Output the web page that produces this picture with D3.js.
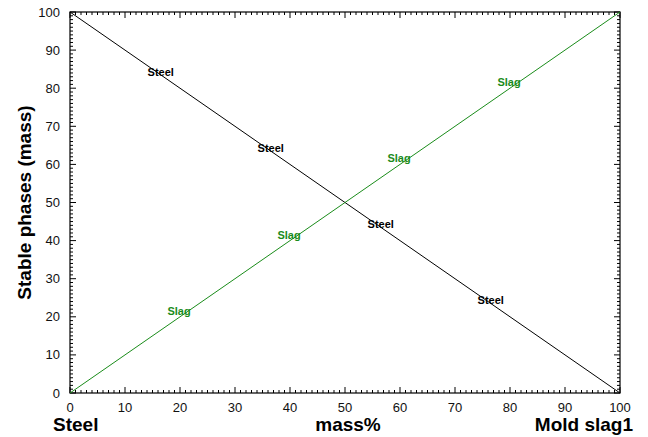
<!DOCTYPE html>
<html>
<head>
<meta charset="utf-8">
<script src="https://cdn.jsdelivr.net/npm/d3@7"></script>
<style>
  html, body { margin: 0; padding: 0; background: #fff; }
  svg { display: block; font-family: "Liberation Sans", Arial, Helvetica, sans-serif; }
</style>
</head>
<body>
<svg id="chart" width="648" height="437"></svg>
<script>
// Composition axis: 0 = pure steel, 100 = pure mold slag
const massPct = [0, 100];
const steelMass = [100, 0];
const slagMass = [0, 100];

// Inline curve labels (x positions along the composition axis)
const steelLabelX = [16.5, 36.5, 56.5, 76.5];
const slagLabelX = [20, 40, 60, 80];

const xTicks = [0, 10, 20, 30, 40, 50, 60, 70, 80, 90, 100];
const yTicks = [0, 10, 20, 30, 40, 50, 60, 70, 80, 90, 100];
const minorTicks = d3.range(0, 101, 1);

const svg = d3.select("#chart");
const m = { left: 70, right: 620, top: 12, bottom: 393 };

const x = d3.scaleLinear().domain([0, 100]).range([m.left, m.right]);
const y = d3.scaleLinear().domain([0, 100]).range([m.bottom, m.top]);

const green = "#1a8c1a";

// frame
svg.append("rect")
  .attr("x", m.left).attr("y", m.top)
  .attr("width", m.right - m.left).attr("height", m.bottom - m.top)
  .attr("fill", "none").attr("stroke", "#000").attr("stroke-width", 1.2);

// inward ticks on all four sides
const tickLen = d => (d % 10 === 0 ? 6 : 3);
const tg = svg.append("g").attr("stroke", "#000").attr("stroke-width", 1);
minorTicks.forEach(d => {
  const L = tickLen(d);
  tg.append("line").attr("x1", x(d)).attr("x2", x(d)).attr("y1", m.bottom).attr("y2", m.bottom - L);
  tg.append("line").attr("x1", x(d)).attr("x2", x(d)).attr("y1", m.top).attr("y2", m.top + L);
  tg.append("line").attr("y1", y(d)).attr("y2", y(d)).attr("x1", m.left).attr("x2", m.left + L);
  tg.append("line").attr("y1", y(d)).attr("y2", y(d)).attr("x1", m.right).attr("x2", m.right - L);
});

// tick labels
svg.append("g").selectAll("text").data(xTicks).join("text")
  .attr("x", d => x(d)).attr("y", 412)
  .attr("text-anchor", "middle").attr("font-size", 13).attr("fill", "#111")
  .text(d => d);

svg.append("g").selectAll("text").data(yTicks).join("text")
  .attr("x", 60).attr("y", d => y(d) + 4.5)
  .attr("text-anchor", "end").attr("font-size", 13).attr("fill", "#111")
  .text(d => d);

// phase lines
const line = d3.line().x(d => x(d[0])).y(d => y(d[1]));
svg.append("path")
  .datum(massPct.map((v, i) => [v, steelMass[i]]))
  .attr("d", line).attr("fill", "none").attr("stroke", "#000").attr("stroke-width", 1);
svg.append("path")
  .datum(massPct.map((v, i) => [v, slagMass[i]]))
  .attr("d", line).attr("fill", "none").attr("stroke", green).attr("stroke-width", 1);

const steelAt = v => d3.interpolateNumber(steelMass[0], steelMass[1])(v / 100);
const slagAt = v => d3.interpolateNumber(slagMass[0], slagMass[1])(v / 100);

svg.append("g").selectAll("text").data(steelLabelX).join("text")
  .attr("x", d => x(d)).attr("y", d => y(steelAt(d)) + 1)
  .attr("text-anchor", "middle").attr("font-size", 11).attr("font-weight", "bold")
  .attr("fill", "#000").text("Steel");

svg.append("g").selectAll("text").data(slagLabelX).join("text")
  .attr("x", d => x(d) - 1).attr("y", d => y(slagAt(d)) - 2)
  .attr("text-anchor", "middle").attr("font-size", 11).attr("font-weight", "bold")
  .attr("fill", green).text("Slag");

// axis titles
svg.append("text")
  .attr("transform", `translate(31,${(m.top + m.bottom) / 2}) rotate(-90)`)
  .attr("text-anchor", "middle").attr("font-size", 19).attr("font-weight", "bold")
  .text("Stable phases (mass)");

svg.append("text").attr("x", 53).attr("y", 431)
  .attr("font-size", 19).attr("font-weight", "bold").text("Steel");
svg.append("text").attr("x", 348).attr("y", 431).attr("text-anchor", "middle")
  .attr("font-size", 19).attr("font-weight", "bold").text("mass%");
svg.append("text").attr("x", 633).attr("y", 431).attr("text-anchor", "end")
  .attr("font-size", 19).attr("font-weight", "bold").text("Mold slag1");
</script>
</body>
</html>
